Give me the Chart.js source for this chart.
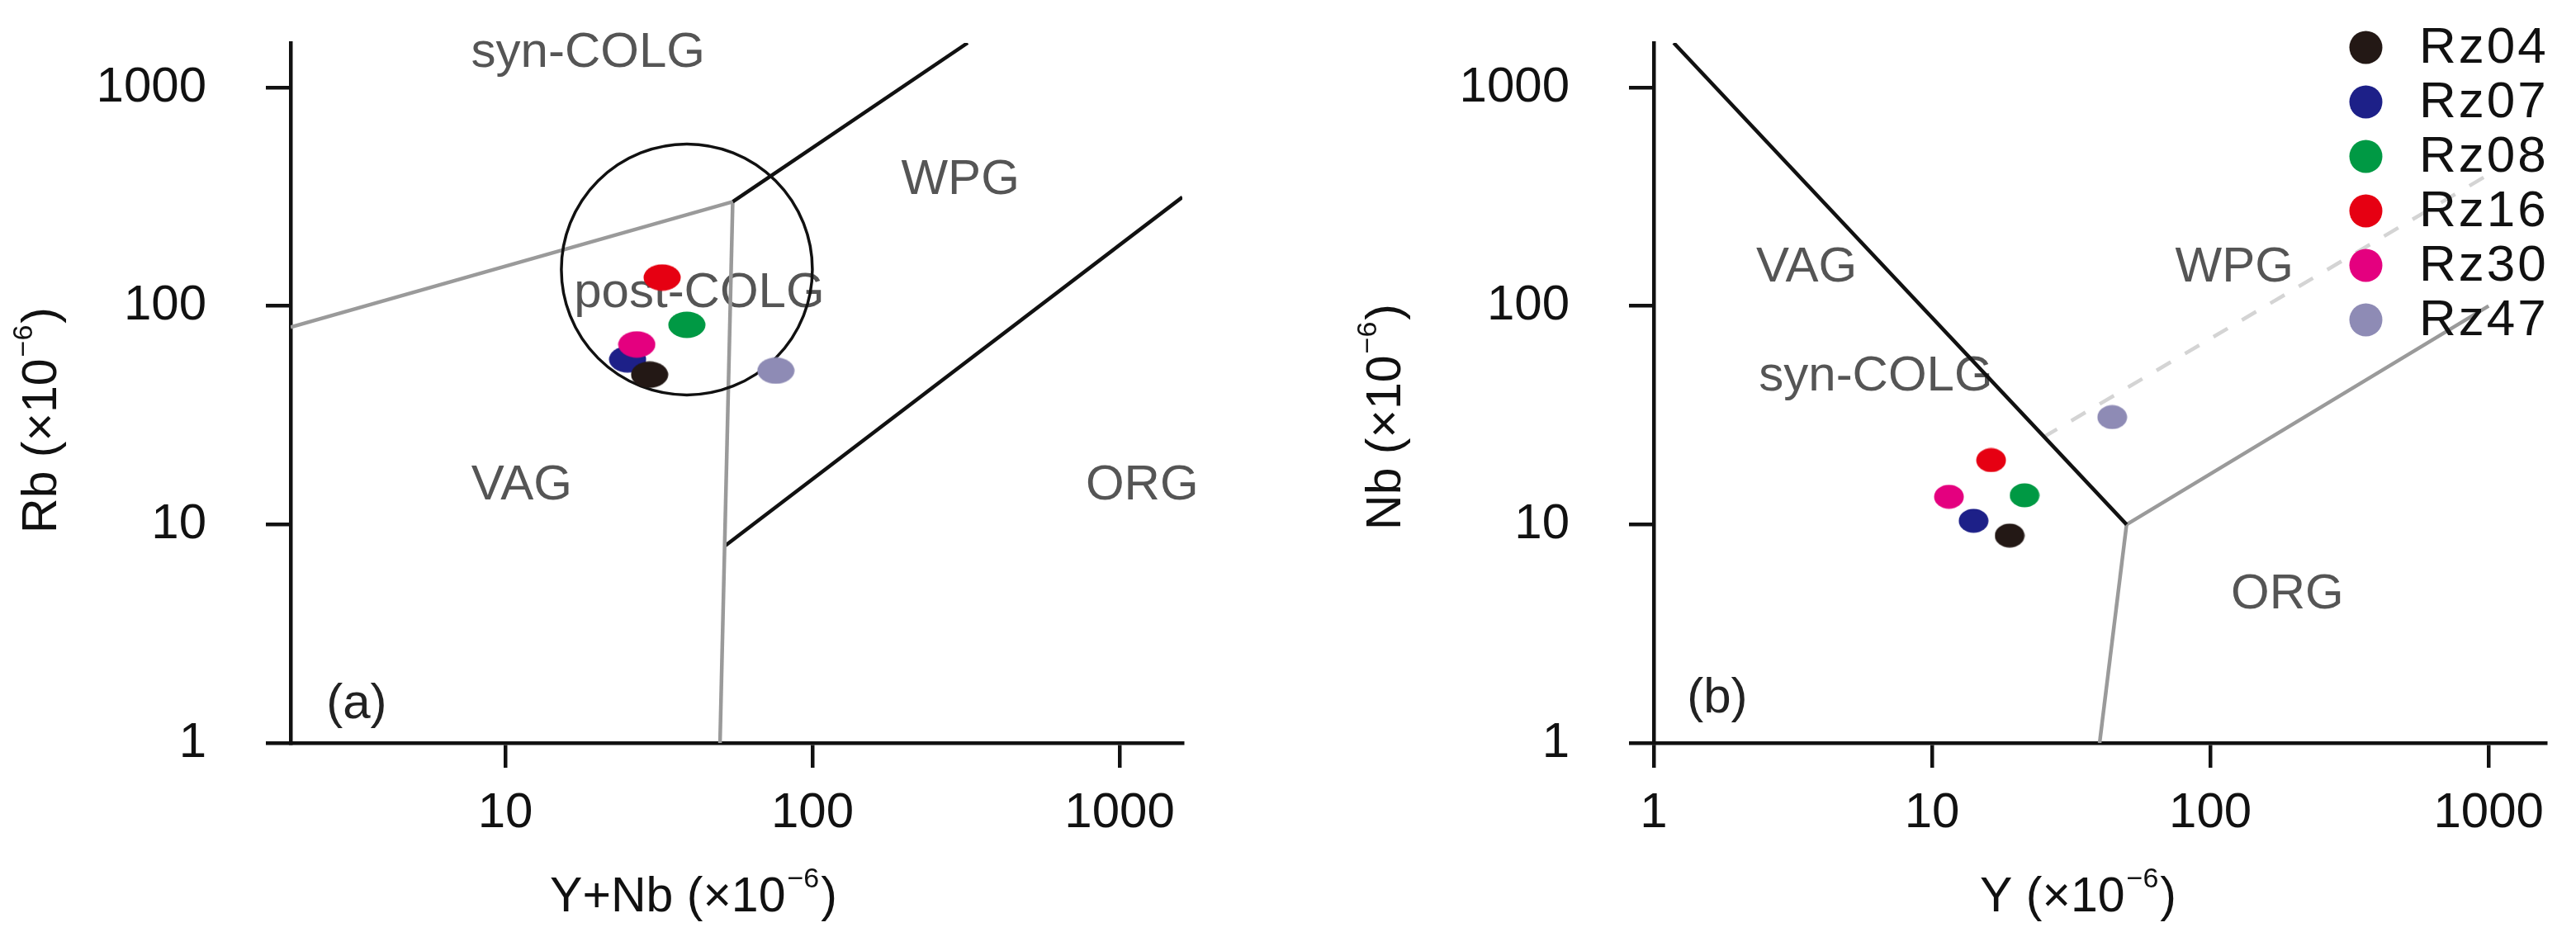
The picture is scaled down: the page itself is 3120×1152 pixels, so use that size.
<!DOCTYPE html>
<html>
<head>
<meta charset="utf-8">
<script src="https://cdn.jsdelivr.net/npm/chart.js@4.4.0/dist/chart.umd.min.js"></script>
<style>
  html, body { margin: 0; padding: 0; background: #fff; }
  #wrap { position: relative; width: 3120px; height: 1152px; }
  .box { position: absolute; top: 0; width: 1560px; height: 1152px; }
</style>
</head>
<body>
<div id="wrap">
  <div class="box" style="left:0"><canvas id="chartA" width="1560" height="1152"></canvas></div>
  <div class="box" style="left:1560px"><canvas id="chartB" width="1560" height="1152"></canvas></div>
</div>
<script>
'use strict';

// samples
const sampleNames = ['Rz04', 'Rz07', 'Rz08', 'Rz16', 'Rz30', 'Rz47'];
const sampleColors = ['#231815', '#1d2088', '#009944', '#e60012', '#e4007f', '#8e8bb5'];

// (a) Rb vs Y+Nb
const ynbValues = [29.5, 25, 39, 32.4, 26.8, 76];
const rbValues = [48.5, 57, 82, 135, 66.7, 50.6];

// (b) Nb vs Y
const yValues = [19, 14.1, 21.5, 16.3, 11.5, 44.4];
const nbValues = [8.9, 10.4, 13.6, 19.7, 13.4, 31];

// tick labels
const ticksAx = [10, 100, 1000];
const ticksBx = [1, 10, 100, 1000];
const ticksY = [1, 10, 100, 1000];

// field boundaries, diagram (a)
const aSynVag = [[2, 80], [55, 300]];
const aSynWpg = [[55, 300], [320, 1600]];
const aVagWpg = [[55, 300], [50, 1]];
const aWpgOrg = [[52, 8], [1600, 315]];
const postColgCenter = [39, 147];

// field boundaries, diagram (b)
const bVagWpg = [[1.18, 1600], [50, 10]];
const bWpgOrg = [[50, 10], [1000, 100]];
const bVagOrg = [[50, 10], [40, 1]];
const bDashed = [[25, 25], [1000, 400]];

// field names and where they sit (data units)
const namesA = ['syn-COLG', 'WPG', 'post-COLG', 'VAG', 'ORG'];
const spotsA = [[18.6, 1430], [303, 375], [42.8, 114], [11.3, 15], [1183, 15]];
const namesB = ['VAG', 'WPG', 'syn-COLG', 'ORG'];
const spotsB = [[3.54, 149], [122, 149], [6.28, 47.4], [189, 4.78]];

const ink = '#111';
const fieldGray = '#555';
const lineGray = '#9a9a9a';
const fam = '"Liberation Sans", Arial, sans-serif';

function ellipseMarker(color, w, h) {
  let c = document.createElement('canvas');
  c.width = w;
  c.height = h;
  let g = c.getContext('2d');
  g.fillStyle = color;
  g.beginPath();
  g.ellipse(w / 2, h / 2, w / 2 - 0.5, h / 2 - 0.5, 0, 0, Math.PI * 2);
  g.fill();
  return c;
}

function sampleSets(xs, ys, w, h) {
  return sampleNames.map((name, i) => ({
    label: name,
    data: [{x: xs[i], y: ys[i]}],
    pointStyle: ellipseMarker(sampleColors[i], w, h),
    pointRadius: h / 2,
    color: sampleColors[i],
    isSample: true,
    order: name === 'Rz07' ? 5 : 1
  }));
}

function lineSet(pts, color, dash) {
  return {
    data: pts.map(p => ({x: p[0], y: p[1]})),
    showLine: true,
    borderColor: color,
    borderWidth: 4.5,
    borderDash: dash || [],
    pointRadius: 0,
    fill: false,
    order: 20
  };
}

function axes(xMin, xTicks, yWidth) {
  return {
    x: {
      type: 'logarithmic',
      min: xMin,
      max: 1600,
      afterBuildTicks: s => { s.ticks = xTicks.map(v => ({value: v})); },
      afterFit: s => {
        s.height = 252;
        s.paddingLeft = 0;
        s.paddingRight = 0;
      },
      border: {color: ink, width: 4.5},
      grid: {drawOnChartArea: false, color: ink, lineWidth: 4.5, tickLength: 30},
      ticks: {color: ink, font: {family: fam, size: 60}, padding: 19, maxRotation: 0, autoSkip: false,
        callback: v => String(v)}
    },
    y: {
      type: 'logarithmic',
      min: 1,
      max: 1600,
      afterBuildTicks: s => { s.ticks = ticksY.map(v => ({value: v})); },
      afterFit: s => {
        s.width = yWidth;
        s.paddingTop = 0;
        s.paddingBottom = 0;
      },
      border: {color: ink, width: 4.5},
      grid: {drawOnChartArea: false, color: ink, lineWidth: 4.5, tickLength: 30},
      ticks: {color: ink, font: {family: fam, size: 60}, padding: 72, autoSkip: false,
        callback: v => String(v)}
    }
  };
}

function drawTitle(ctx, main, x, y, rot) {
  let big = '59px ' + fam;
  let small = '34px ' + fam;
  ctx.save();
  ctx.translate(x, y);
  ctx.rotate(rot);
  ctx.font = big;
  let w1 = ctx.measureText(main).width;
  let w3 = ctx.measureText(')').width;
  ctx.font = small;
  let w2 = ctx.measureText('\u22126').width;
  let cx = -(w1 + w2 + w3) / 2;
  ctx.fillStyle = ink;
  ctx.textAlign = 'left';
  ctx.textBaseline = 'middle';
  ctx.font = big;
  ctx.fillText(main, cx, 0);
  cx += w1;
  ctx.font = small;
  ctx.fillText('\u22126', cx + 2, -22);
  cx += w2 + 4;
  ctx.font = big;
  ctx.fillText(')', cx, 0);
  ctx.restore();
}

// field names, panel letter and axis titles
function decorPlugin(names, spots, letterSpot, letter, xTitle, xTitlePos, yTitle, yTitlePos) {
  return {
    id: 'decor',
    beforeDatasetsDraw(chart) {
      let ctx = chart.ctx;
      let sx = chart.scales.x;
      let sy = chart.scales.y;
      ctx.save();
      ctx.textAlign = 'center';
      ctx.textBaseline = 'middle';
      ctx.font = '60px ' + fam;
      ctx.fillStyle = fieldGray;
      names.forEach((n, i) => {
        ctx.fillText(n, sx.getPixelForValue(spots[i][0]), sy.getPixelForValue(spots[i][1]));
      });
      ctx.fillStyle = '#222';
      ctx.fillText(letter, sx.getPixelForValue(letterSpot[0]), sy.getPixelForValue(letterSpot[1]));
      ctx.restore();
      drawTitle(ctx, xTitle, xTitlePos[0], xTitlePos[1], 0);
      drawTitle(ctx, yTitle, yTitlePos[0], yTitlePos[1], -Math.PI / 2);
    }
  };
}

const legendMarks = sampleColors.map(c => ellipseMarker(c, 41, 41));

const legendPlugin = {
  id: 'sampleLegend',
  afterDatasetsDraw(chart) {
    let ctx = chart.ctx;
    ctx.save();
    ctx.font = '62px ' + fam;
    ctx.letterSpacing = '3px';
    ctx.fillStyle = ink;
    ctx.textAlign = 'left';
    ctx.textBaseline = 'middle';
    chart.data.datasets.filter(d => d.isSample).forEach((d, i) => {
      let y = 57 + i * 66;
      ctx.drawImage(legendMarks[i], 1305 - 20, y - 20);
      ctx.fillText(d.label, 1370, y + 2);
    });
    ctx.restore();
  }
};

const common = {
  responsive: false,
  animation: false,
  events: [],
  plugins: {legend: {display: false}, tooltip: {enabled: false}}
};

// (a)
let circleSet = {
  data: [{x: postColgCenter[0], y: postColgCenter[1]}],
  pointStyle: 'circle',
  pointRadius: 152,
  pointBorderWidth: 3.5,
  pointBorderColor: ink,
  pointBackgroundColor: 'rgba(0,0,0,0)',
  clip: false,
  order: 15
};

new Chart(document.getElementById('chartA'), {
  type: 'scatter',
  data: {
    datasets: sampleSets(ynbValues, rbValues, 46, 33).concat([
      circleSet,
      lineSet(aSynVag, lineGray),
      lineSet(aSynWpg, ink),
      lineSet(aVagWpg, lineGray),
      lineSet(aWpgOrg, ink)
    ])
  },
  options: Object.assign({}, common, {
    layout: {autoPadding: false, padding: {top: 52, right: 128, left: 0, bottom: 0}},
    scales: axes(2, ticksAx, 352)
  }),
  plugins: [decorPlugin(namesA, spotsA, [3.28, 1.5], '(a)',
    'Y+Nb (\u00d710', [838, 1088], 'Rb (\u00d710', [52, 511])]
});

// (b)
new Chart(document.getElementById('chartB'), {
  type: 'scatter',
  data: {
    datasets: sampleSets(yValues, nbValues, 37, 30).concat([
      lineSet(bVagWpg, ink),
      lineSet(bWpgOrg, lineGray),
      lineSet(bVagOrg, lineGray),
      lineSet(bDashed, '#d4d4d4', [20, 20])
    ])
  },
  options: Object.assign({}, common, {
    layout: {autoPadding: false, padding: {top: 52, right: 37, left: 0, bottom: 0}},
    scales: axes(1, ticksBx, 443)
  }),
  plugins: [decorPlugin(namesB, spotsB, [1.69, 1.6], '(b)',
    'Y (\u00d710', [955, 1088], 'Nb (\u00d710', [120, 507]), legendPlugin]
});
</script>
</body>
</html>
